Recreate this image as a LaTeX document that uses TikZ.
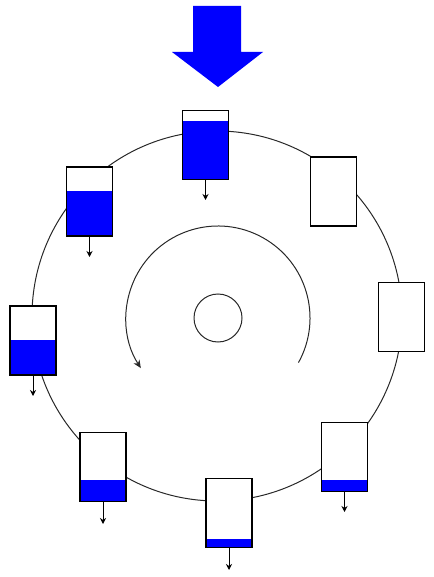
\documentclass[tikz,border=0pt]{standalone}
\usetikzlibrary{arrows.meta,calc}
\definecolor{tankblue}{RGB}{0,0,255}
\definecolor{ringgray}{RGB}{40,40,40}
\tikzset{
  tank/.style={draw=black, line width=1.6pt, minimum width=46pt, minimum height=69pt,
    inner sep=0pt, outer sep=0pt, fill=white,
    path picture={\fill[tankblue] (path picture bounding box.south west) rectangle
      ([yshift=#1]path picture bounding box.south east);}},
  ring/.style={draw=ringgray, line width=1pt},
  drip/.style={draw=black, line width=1pt, -{Stealth[length=6pt,width=6pt]}},
}
\begin{document}
\begin{tikzpicture}[x=1pt,y=-1pt]
\useasboundingbox (0,0) rectangle (433,577);
% ring and hub
\coordinate (ctr) at (217,316);
\draw[ring] (ctr) circle[radius=185];
\node[ring, circle, minimum size=48pt, inner sep=0pt] (hub) at (218,318) {};
% rotation arrow
\coordinate (rotstart) at ($(218,318)+(-29:92pt)$);
\draw[ring, -{Stealth[length=8pt,width=7pt]}] (rotstart)
  arc[start angle=-29, end angle=213, radius=92pt] coordinate (rotend);
% big input arrow
\fill[tankblue] (193,6) -- (241,6) -- (241,52) -- (263,52) -- (218,87) -- (172,52) -- (193,52) -- cycle;
% tanks
\node[tank=58pt] (t1) at (205.5,145) {};
\node[tank=45pt] (t2) at (89.5,201.5) {};
\node[tank=35pt] (t3) at (33,340.5) {};
\node[tank=22pt] (t4) at (103,467) {};
\node[tank=9pt] (t5) at (229,513) {};
\node[tank=12pt] (t6) at (344.5,457) {};
\node[tank=0pt] (t7) at (401.5,317) {};
\node[tank=0pt] (t8) at (333.5,191.5) {};
% drips
\coordinate (d1) at (205.5,200);
\coordinate (d2) at (89.5,257);
\coordinate (d3) at (33,396);
\coordinate (d4) at (103,524);
\coordinate (d5) at (229,570);
\coordinate (d6) at (344.5,512);
\draw[drip] (t1.south) -- (d1);
\draw[drip] (t2.south) -- (d2);
\draw[drip] (t3.south) -- (d3);
\draw[drip] (t4.south) -- (d4);
\draw[drip] (t5.south) -- (d5);
\draw[drip] (t6.south) -- (d6);
\end{tikzpicture}
\end{document}
